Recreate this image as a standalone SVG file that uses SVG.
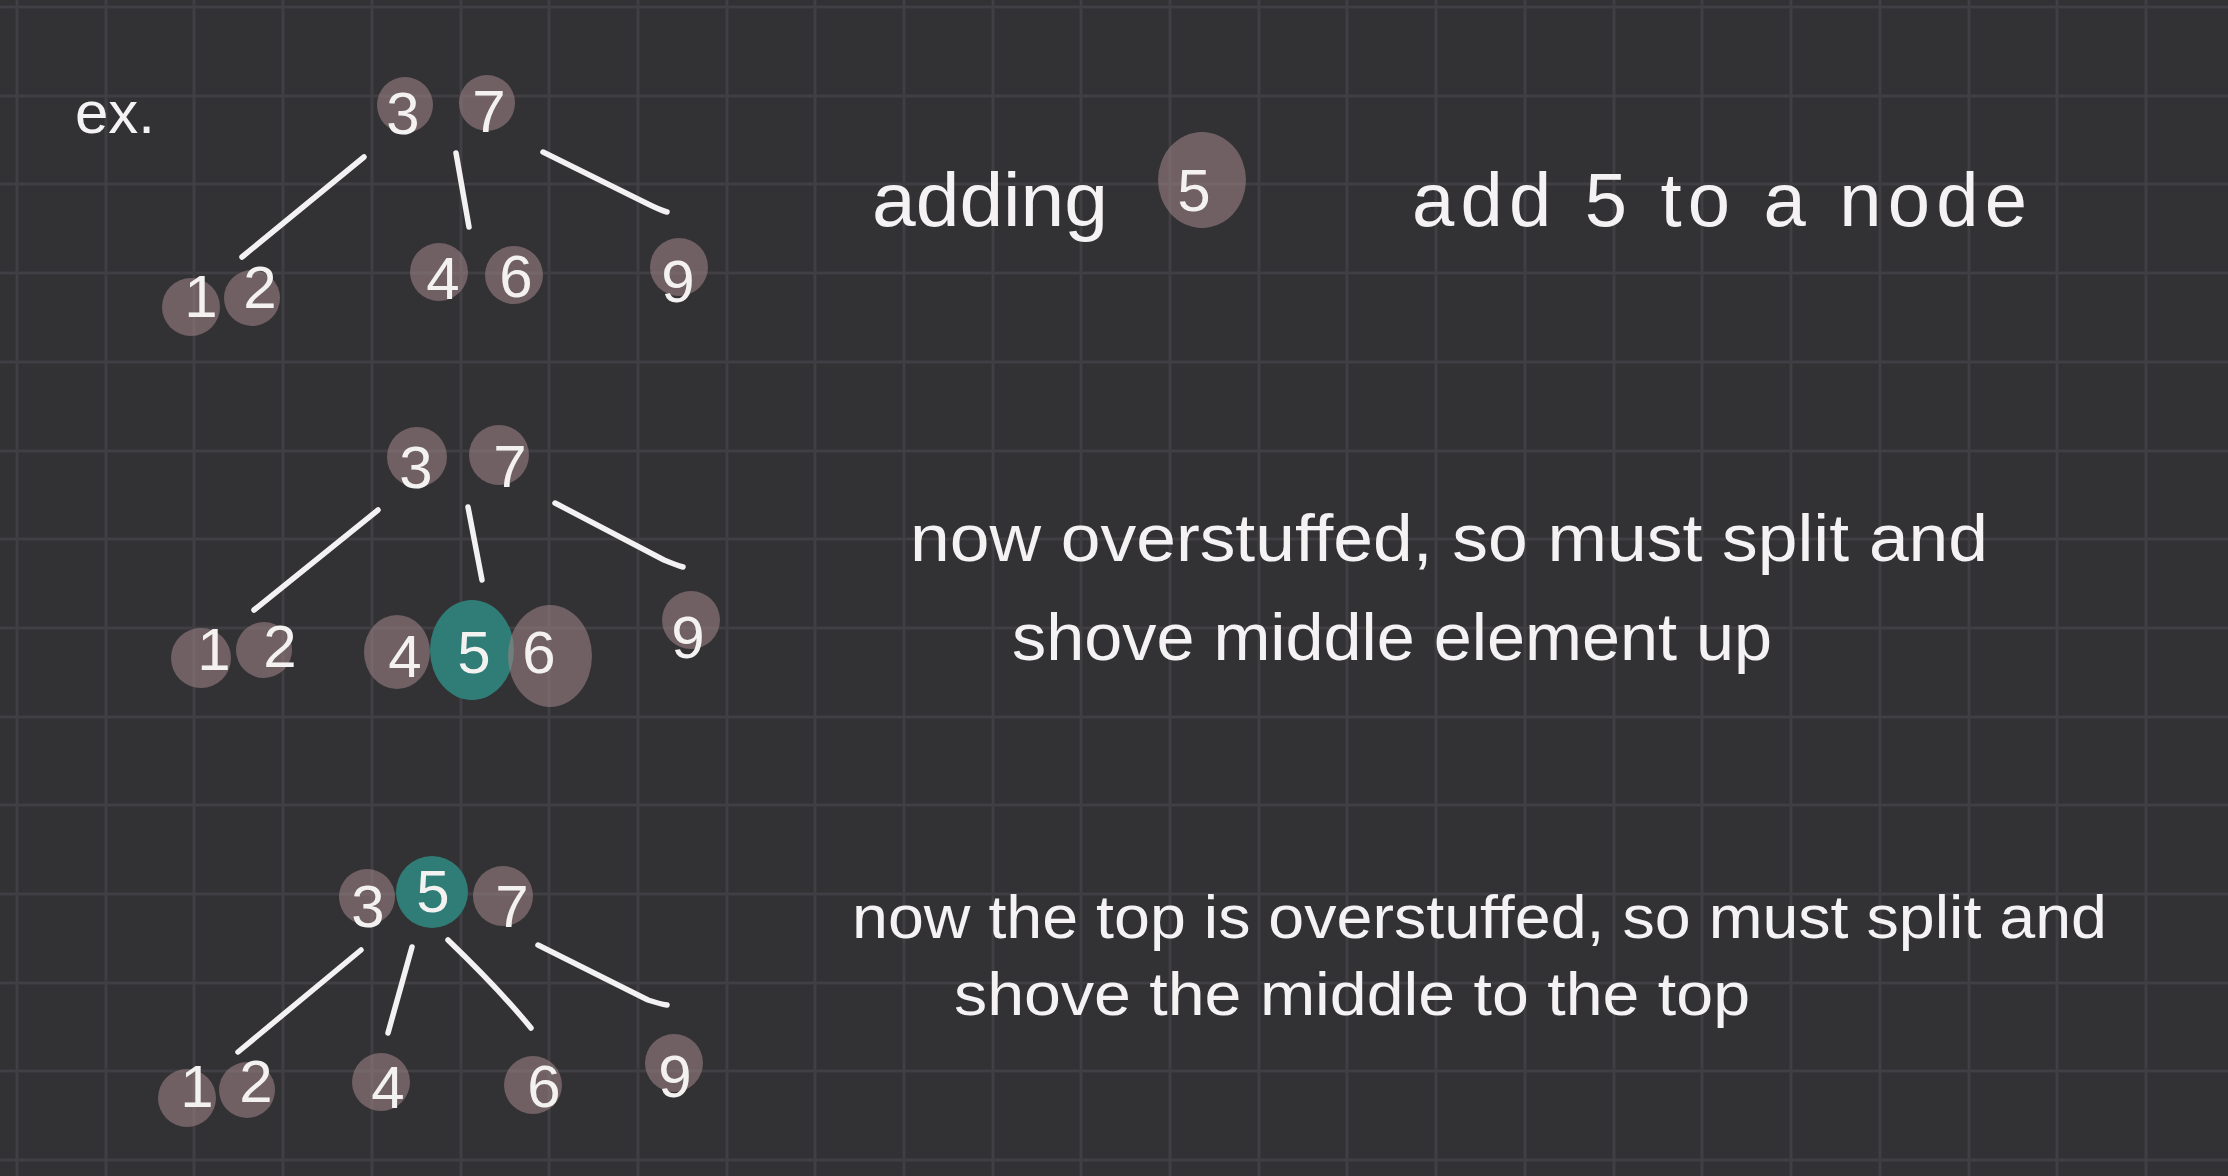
<svg xmlns="http://www.w3.org/2000/svg" width="2228" height="1176" viewBox="0 0 2228 1176">
<style>
.bg{fill:#323134}
.grid line{stroke:#403f43;stroke-width:3}
.pk{fill:#9a8084;fill-opacity:0.6}
.tl{fill:#2f7d76}
.dg{font-family:"Liberation Sans",Arial,sans-serif;font-size:60px;fill:#f4f1f1;text-anchor:middle}
.tx{font-family:"Liberation Sans",Arial,sans-serif;fill:#f4f2f2}
.cn path{stroke:#f3f1f1;stroke-width:5.5;fill:none;stroke-linecap:round;stroke-linejoin:round}
</style>
<rect class="bg" x="0" y="0" width="2228" height="1176"/>
<g class="grid">
<line x1="17" y1="0" x2="17" y2="1176"/><line x1="106" y1="0" x2="106" y2="1176"/><line x1="194" y1="0" x2="194" y2="1176"/><line x1="283" y1="0" x2="283" y2="1176"/><line x1="372" y1="0" x2="372" y2="1176"/><line x1="461" y1="0" x2="461" y2="1176"/><line x1="549" y1="0" x2="549" y2="1176"/><line x1="638" y1="0" x2="638" y2="1176"/><line x1="727" y1="0" x2="727" y2="1176"/><line x1="815" y1="0" x2="815" y2="1176"/><line x1="904" y1="0" x2="904" y2="1176"/><line x1="993" y1="0" x2="993" y2="1176"/><line x1="1081" y1="0" x2="1081" y2="1176"/><line x1="1170" y1="0" x2="1170" y2="1176"/><line x1="1259" y1="0" x2="1259" y2="1176"/><line x1="1347" y1="0" x2="1347" y2="1176"/><line x1="1436" y1="0" x2="1436" y2="1176"/><line x1="1525" y1="0" x2="1525" y2="1176"/><line x1="1614" y1="0" x2="1614" y2="1176"/><line x1="1702" y1="0" x2="1702" y2="1176"/><line x1="1791" y1="0" x2="1791" y2="1176"/><line x1="1880" y1="0" x2="1880" y2="1176"/><line x1="1969" y1="0" x2="1969" y2="1176"/><line x1="2057" y1="0" x2="2057" y2="1176"/><line x1="2146" y1="0" x2="2146" y2="1176"/>
<line x1="0" y1="7" x2="2228" y2="7"/><line x1="0" y1="96" x2="2228" y2="96"/><line x1="0" y1="184" x2="2228" y2="184"/><line x1="0" y1="273" x2="2228" y2="273"/><line x1="0" y1="362" x2="2228" y2="362"/><line x1="0" y1="451" x2="2228" y2="451"/><line x1="0" y1="539" x2="2228" y2="539"/><line x1="0" y1="628" x2="2228" y2="628"/><line x1="0" y1="717" x2="2228" y2="717"/><line x1="0" y1="805" x2="2228" y2="805"/><line x1="0" y1="894" x2="2228" y2="894"/><line x1="0" y1="983" x2="2228" y2="983"/><line x1="0" y1="1071" x2="2228" y2="1071"/><line x1="0" y1="1160" x2="2228" y2="1160"/>
</g>

<g id="connectors" class="cn">
<path d="M364,157 L242,257"/>
<path d="M456,153 L469,227"/>
<path d="M543,152 L648,204 Q660,210 667,212"/>
<path d="M378,510 L254,610"/>
<path d="M468,507 L482,580"/>
<path d="M555,503 L664,560 Q676,565 683,567"/>
<path d="M361,950 L238,1052"/>
<path d="M412,947 L388,1033"/>
<path d="M448,940 Q500,990 531,1028"/>
<path d="M538,945 L648,1000 Q660,1004 667,1005"/>
</g>

<text id="ex" class="tx" x="75" y="133" font-size="60" textLength="80" lengthAdjust="spacingAndGlyphs">ex.</text>

<g id="tree1">
<g id="t1-root"><circle class="pk" cx="405" cy="105" r="28"/><circle class="pk" cx="487" cy="103" r="28"/><text class="dg" x="403" y="134">3</text><text class="dg" x="489" y="132">7</text></g>
<g id="t1-left"><circle class="pk" cx="191" cy="307" r="29"/><circle class="pk" cx="252" cy="298" r="28"/><text class="dg" x="201" y="317">1</text><text class="dg" x="260" y="308">2</text></g>
<g id="t1-mid"><circle class="pk" cx="439" cy="272" r="29"/><circle class="pk" cx="514" cy="275" r="29"/><text class="dg" x="443" y="299">4</text><text class="dg" x="516" y="297">6</text></g>
<g id="t1-right"><circle class="pk" cx="679" cy="267" r="29"/><text class="dg" x="678" y="302" font-size="68">9</text></g>
</g>

<g id="tree2">
<g id="t2-root"><circle class="pk" cx="417" cy="457" r="30"/><circle class="pk" cx="499" cy="455" r="30"/><text class="dg" x="416" y="488">3</text><text class="dg" x="510" y="487">7</text></g>
<g id="t2-left"><circle class="pk" cx="201" cy="658" r="30"/><circle class="pk" cx="264" cy="650" r="28"/><text class="dg" x="214" y="670">1</text><text class="dg" x="280" y="667">2</text></g>
<g id="t2-mid"><ellipse class="pk" cx="397" cy="652" rx="33" ry="37"/><ellipse class="tl" cx="472" cy="650" rx="42" ry="50"/><ellipse class="pk" cx="550" cy="656" rx="42" ry="51"/><text class="dg" x="405" y="677">4</text><text class="dg" x="474" y="673">5</text><text class="dg" x="539" y="673">6</text></g>
<g id="t2-right"><circle class="pk" cx="691" cy="620" r="29"/><text class="dg" x="688" y="658" font-size="68">9</text></g>
</g>

<g id="tree3">
<g id="t3-root"><circle class="pk" cx="367" cy="897" r="28"/><circle class="pk" cx="503" cy="896" r="30"/><circle class="tl" cx="432" cy="892" r="36"/><text class="dg" x="368" y="927">3</text><text class="dg" x="433" y="912" font-size="46">5</text><text class="dg" x="512" y="927">7</text></g>
<g id="t3-n12"><circle class="pk" cx="187" cy="1098" r="29"/><circle class="pk" cx="247" cy="1090" r="28"/><text class="dg" x="197" y="1107">1</text><text class="dg" x="256" y="1102">2</text></g>
<g id="t3-n4"><circle class="pk" cx="381" cy="1082" r="29"/><text class="dg" x="388" y="1108">4</text></g>
<g id="t3-n6"><circle class="pk" cx="533" cy="1085" r="29"/><text class="dg" x="544" y="1107">6</text></g>
<g id="t3-n9"><circle class="pk" cx="674" cy="1063" r="29"/><text class="dg" x="675" y="1097" font-size="68">9</text></g>
</g>

<g id="caption1">
<text class="tx" x="872" y="226" font-size="76" textLength="236" lengthAdjust="spacingAndGlyphs">adding</text>
<g id="add5"><ellipse class="pk" cx="1202" cy="180" rx="44" ry="48"/><text class="dg" x="1194" y="211" font-size="70">5</text></g>
<text class="tx" x="1412" y="226" font-size="76" textLength="615" lengthAdjust="spacing">add 5 to a node</text>
</g>

<g id="caption2">
<text class="tx" x="910" y="561" font-size="66" textLength="1078" lengthAdjust="spacingAndGlyphs">now overstuffed, so must split and</text>
<text class="tx" x="1012" y="660" font-size="66" textLength="760" lengthAdjust="spacingAndGlyphs">shove middle element up</text>
</g>

<g id="caption3">
<text class="tx" x="852" y="938" font-size="62" textLength="1255" lengthAdjust="spacingAndGlyphs">now the top is overstuffed, so must split and</text>
<text class="tx" x="954" y="1015" font-size="62" textLength="796" lengthAdjust="spacingAndGlyphs">shove the middle to the top</text>
</g>
</svg>
